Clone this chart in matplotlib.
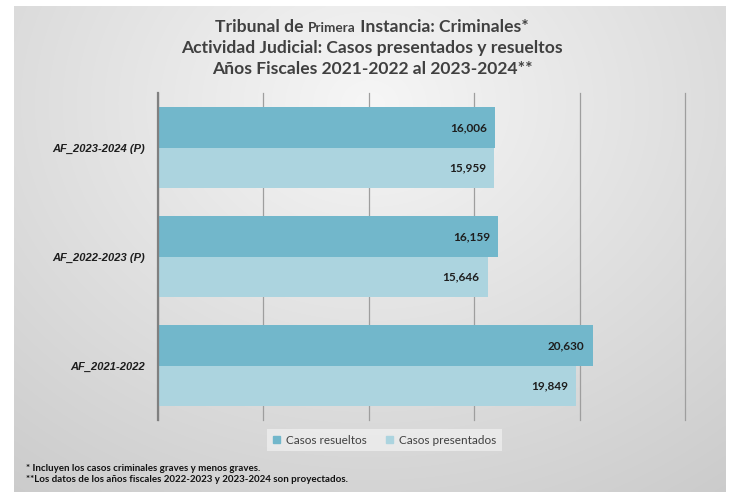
import numpy as np
import matplotlib
matplotlib.use("Agg")
import matplotlib.pyplot as plt
from matplotlib.patches import Patch

plt.rcParams['font.family'] = ['Lato', 'DejaVu Sans']

# data (bottom to top)
categories = ['AF_2021-2022', 'AF_2022-2023 (P)', 'AF_2023-2024 (P)']
resueltos = [20630, 16159, 16006]
presentados = [19849, 15646, 15959]
series_names = ['Casos resueltos', 'Casos presentados']
footnotes = ['* Incluyen los casos criminales graves y menos graves.',
             '**Los datos de los años fiscales 2022-2023 y 2023-2024 son proyectados.']

col_res = '#72b7cb'
col_pre = '#acd4df'
txt_col = '#404040'

W, H = 732, 493
fig = plt.figure(figsize=(W / 100, H / 100), dpi=100)
fig.patch.set_facecolor('white')

# gradient background panel
bg = fig.add_axes([14 / W, 1 / H, (726 - 14) / W, (487 - 1) / H])
xx, yy = np.meshgrid(np.linspace(0, 1, 300), np.linspace(0, 1, 200))
r = np.sqrt(((xx - 0.5) / 0.75) ** 2 + ((yy - 0.2) / 0.9) ** 2)
shade = 0.965 - 0.15 * np.clip(r, 0, 1.2)
bg.imshow(np.dstack([shade] * 3), aspect='auto', extent=[0, 1, 1, 0], interpolation='bilinear')
bg.set_axis_off()

ax = fig.add_axes([157.5 / W, (H - 420) / H, (685 - 157.5) / W, (420 - 93) / H])
ax.patch.set_alpha(0)

y = np.arange(len(categories))
h = 0.367
bars_r = ax.barh(y + h / 2, resueltos, height=h, color=col_res, label=series_names[0], zorder=2)
bars_p = ax.barh(y - h / 2, presentados, height=h, color=col_pre, label=series_names[1], zorder=2)

for bars, vals in [(bars_r, resueltos), (bars_p, presentados)]:
    for b, v in zip(bars, vals):
        ax.annotate(f'{v:,}', (v, b.get_y() + b.get_height() / 2), xytext=(-6, 0),
                    textcoords='offset points', ha='right', va='center',
                    fontsize=8.5, fontweight='bold', color='#1e1e1e', zorder=3)

ax.set_xlim(0, 25000)
ax.set_ylim(-0.5, 2.5)
ax.set_xticks(np.arange(0, 25001, 5000))
ax.set_xticklabels([])
ax.tick_params(axis='x', length=0)
ax.grid(axis='x', color='#9e9e9e', linewidth=0.9, zorder=1)
for gl in ax.get_xgridlines():
    gl.set_clip_on(False)
ax.set_yticks(y)
ax.set_yticklabels(categories, fontsize=8, fontweight='bold', fontstyle='italic',
                   color='#1e1e1e', family=['Liberation Sans', 'DejaVu Sans'])
ax.tick_params(axis='y', length=0, pad=9)
for s in ['top', 'right', 'bottom']:
    ax.spines[s].set_visible(False)
ax.spines['left'].set_color('#808080')
ax.spines['left'].set_linewidth(1.6)
ax.set_axisbelow(True)

# title, "Primera" drawn smaller as in the original
fig.canvas.draw()
rend = fig.canvas.get_renderer()
tfs = 12.6
parts = [('Tribunal de ', tfs), ('Primera', 9.8), (' Instancia: Criminales*', tfs)]
texts = []
total = 0
for s, fs in parts:
    t = fig.text(0, 0, s, fontsize=fs, fontweight='bold', color=txt_col, va='baseline')
    w = t.get_window_extent(rend).width
    texts.append((t, w))
    total += w
x0 = 0.5 * W + 6 - total / 2
base = H - 32
for t, w in texts:
    t.set_position((x0 / W, base / H))
    x0 += w
fig.text(0.5 + 6 / W, (H - 53) / H, 'Actividad Judicial: Casos presentados y resueltos',
         fontsize=tfs, fontweight='bold', color=txt_col, ha='center', va='baseline')
fig.text(0.5 + 6 / W, (H - 74) / H, 'Años Fiscales 2021-2022 al 2023-2024**',
         fontsize=tfs, fontweight='bold', color=txt_col, ha='center', va='baseline')

handles = [Patch(color=col_res), Patch(color=col_pre)]
leg = fig.legend(handles, series_names, loc='center', bbox_to_anchor=(384.5 / W, (H - 440) / H),
                 ncol=2, frameon=True, fontsize=8.5, handlelength=0.6, handleheight=0.6,
                 handletextpad=0.5, columnspacing=1.6, borderpad=0.5)
leg.get_frame().set_facecolor('white')
leg.get_frame().set_alpha(0.45)
leg.get_frame().set_edgecolor('none')
leg.get_frame().set_boxstyle('square', pad=0)
for t in leg.get_texts():
    t.set_color(txt_col)

fig.text(26 / W, (H - 471) / H, footnotes[0], fontsize=7, fontweight='bold', color='#111111')
fig.text(26 / W, (H - 482) / H, footnotes[1], fontsize=7, fontweight='bold', color='#111111')

fig.savefig('out.png', dpi=100)
